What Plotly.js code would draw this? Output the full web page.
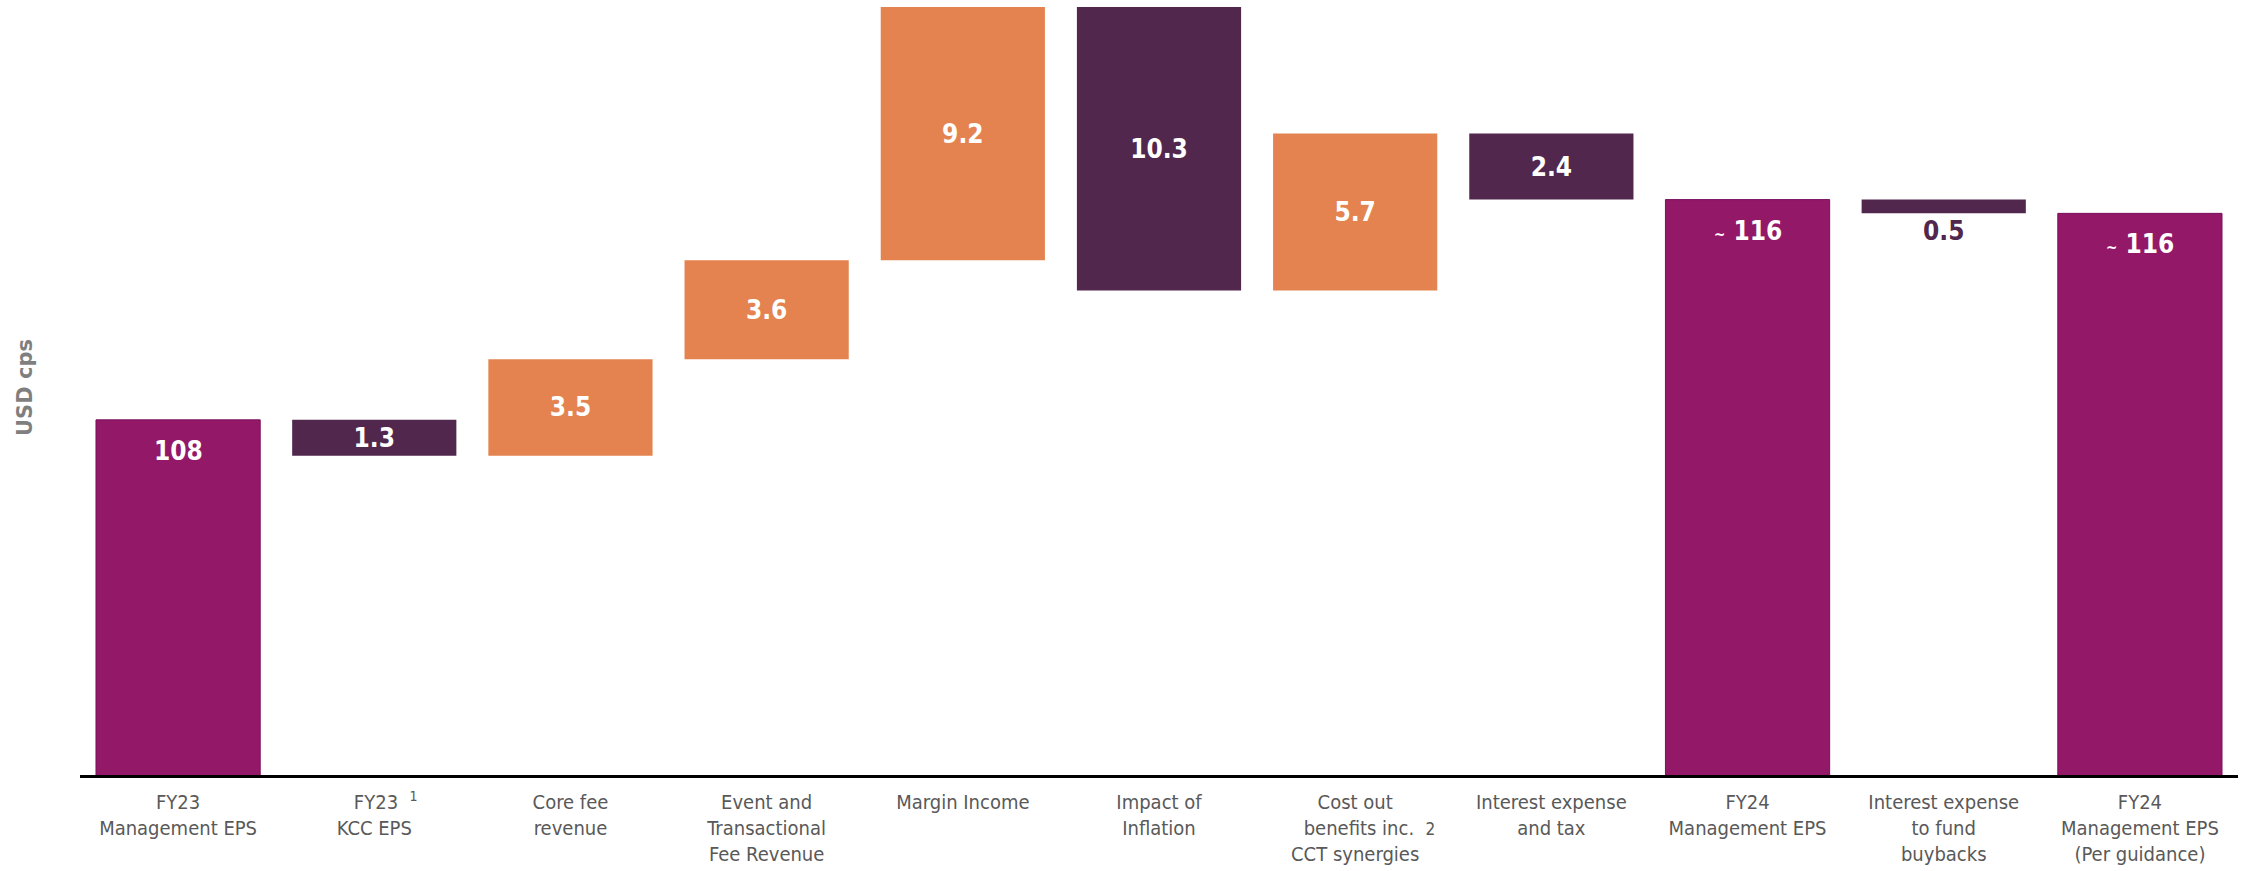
<!DOCTYPE html>
<html>
<head>
<meta charset="utf-8">
<script src="https://cdn.plot.ly/plotly-3.0.1.min.js"></script>
<style>
  html, body { margin: 0; padding: 0; background: #ffffff; }
  #chart { width: 2247px; height: 871px; }
</style>
</head>
<body>
<div id="chart"></div>
<script>
// ---- data ----
const categories = [
  "FY23<br>Management EPS",
  "\u00a0\u00a0\u00a0\u00a0FY23\u00a0\u00a0<sup>1</sup><br>KCC EPS",
  "Core fee<br>revenue",
  "Event and<br>Transactional<br>Fee Revenue",
  "Margin Income",
  "Impact of<br>Inflation",
  "Cost out<br>\u00a0\u00a0\u00a0\u00a0\u00a0benefits inc.\u00a0\u00a0<span style=\"font-size:17px\">2</span><br>CCT synergies",
  "Interest expense<br>and tax",
  "FY24<br>Management EPS",
  "Interest expense<br>to fund<br>buybacks",
  "FY24<br>Management EPS<br>(Per guidance)"
];
const measures = ["absolute","relative","relative","relative","relative","relative","relative","relative","total","relative","total"];
const values   = [108, -1.3, 3.5, 3.6, 9.2, -10.3, 5.7, -2.4, 0, -0.5, 0];
const totalLabels = ["108", "~116", "~116"];

// ---- styles ----
const cTotal = "#931868";
const cDown  = "#52274D";
const cUp    = "#E4834F";
const labelFont = "'DejaVu Sans Condensed', 'DejaVu Sans', Verdana, sans-serif";

// text for relative bars
const text = values.map((v, i) => measures[i] === "relative" ? Math.abs(v).toFixed(1) : " ");
const textpos = values.map((v, i) => {
  if (measures[i] !== "relative") return "none";
  return Math.abs(v) < 1 ? "outside" : "inside";
});

// cumulative levels for total annotations
let running = 0;
const levels = values.map((v, i) => {
  if (measures[i] === "absolute") running = v;
  else if (measures[i] === "relative") running += v;
  return running;
});

const annotations = [];
let t = 0;
measures.forEach((m, i) => {
  if (m === "absolute" || m === "total") {
    const lbl = totalLabels[t++];
    const txt = lbl.startsWith("~")
      ? "<span style=\"font-size:15px\">~</span> " + lbl.slice(1)
      : lbl;
    annotations.push({
      x: categories[i], y: levels[i], xref: "x", yref: "y",
      text: "<b>" + txt + "</b>", showarrow: false,
      yanchor: "middle", yshift: -31,
      font: { family: labelFont, size: 26, color: "#ffffff" }
    });
  }
});

const trace = {
  type: "waterfall",
  x: categories,
  y: values,
  measure: measures,
  text: text.map(s => s.trim() ? "<b>" + s + "</b>" : " "),
  textposition: textpos,
  textangle: 0,
  constraintext: "none",
  insidetextanchor: "middle",
  insidetextfont: { family: labelFont, size: 26, color: "#ffffff" },
  outsidetextfont: { family: labelFont, size: 26, color: cDown },
  increasing: { marker: { color: cUp } },
  decreasing: { marker: { color: cDown } },
  totals: { marker: { color: cTotal, line: { color: "#7A0F5C", width: 1 } } },
  connector: { visible: false },
  hoverinfo: "skip",
  cliponaxis: true
};

const layout = {
  width: 2247,
  height: 871,
  margin: { l: 80, r: 9, t: 0, b: 96 },
  paper_bgcolor: "#ffffff",
  plot_bgcolor: "#ffffff",
  showlegend: false,
  waterfallgap: 0.163,
  font: { family: labelFont, color: "#595959" },
  xaxis: {
    type: "category",
    range: [-0.5, 10.5],
    showline: true,
    linecolor: "#000000",
    linewidth: 3,
    ticks: "",
    showgrid: false,
    zeroline: false,
    tickfont: { family: labelFont, size: 20, color: "#595959" },
    ticklabelstandoff: 7,
    automargin: false
  },
  yaxis: {
    range: [95.1, 123.25],
    showticklabels: false,
    showgrid: false,
    zeroline: false,
    showline: false,
    ticks: "",
    automargin: false,
    title: {
      text: "<b>USD cps</b>",
      font: { family: "'DejaVu Sans', Verdana, sans-serif", size: 21, color: "#7F7F7F" },
      standoff: 40
    }
  },
  annotations: annotations
};

Plotly.newPlot("chart", [trace], layout, { displayModeBar: false, staticPlot: true });
</script>
</body>
</html>
